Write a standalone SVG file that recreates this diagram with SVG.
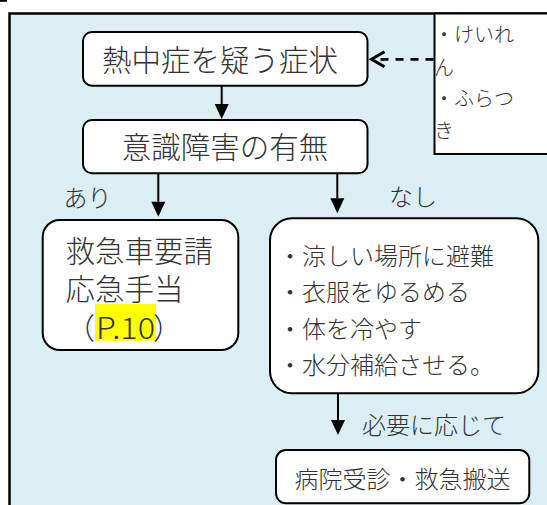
<svg xmlns="http://www.w3.org/2000/svg" width="547" height="505" viewBox="0 0 547 505">
<style>
text{font-family:"Noto Sans CJK JP","Noto Sans",sans-serif;font-weight:300;fill:#333;dominant-baseline:central}
.box{fill:#fff;stroke:#000;stroke-width:2}
.big{font-size:29.5px}
.mid{font-size:24px}
.sm{font-size:20px}
.conn{stroke:#000;stroke-width:2;fill:none}
.dash{stroke:#000;stroke-width:2.8;fill:none;stroke-dasharray:8 7}
.chev{fill:none;stroke:#000;stroke-width:3;stroke-dasharray:none}
</style>
<defs>
<marker id="tri" markerUnits="userSpaceOnUse" markerWidth="14" markerHeight="16" refX="0" refY="7" orient="auto" overflow="visible">
<path d="M0,0 L15,7 L0,14 z" fill="#000"/>
</marker>
<marker id="chev" markerUnits="userSpaceOnUse" markerWidth="14" markerHeight="16" refX="13" refY="7.5" orient="auto" overflow="visible">
<path class="chev" d="M0,0 L13,7.5 L0,15"/>
</marker>
</defs>
<rect x="0" y="0" width="7" height="1.8" fill="#000"/>
<rect id="frame" x="9.5" y="13.5" width="700" height="700" fill="#DAEEF3" stroke="#000" stroke-width="2.5"/>
<g id="note">
<rect x="434.5" y="13.5" width="200" height="140.5" fill="#fff" stroke="#000" stroke-width="2"/>
<text class="sm" x="434" y="33">・けいれ</text>
<text class="sm" x="434" y="66">ん</text>
<text class="sm" x="434" y="97">・ふらつ</text>
<text class="sm" x="434" y="129">き</text>
</g>
<g id="connectors">
<line class="conn" x1="221.7" y1="85.7" x2="221.7" y2="104" marker-end="url(#tri)"/>
<line class="conn" x1="158.3" y1="173.3" x2="158.3" y2="201.7" marker-end="url(#tri)"/>
<line class="conn" x1="337.3" y1="173.3" x2="337.3" y2="198.3" marker-end="url(#tri)"/>
<line class="conn" x1="338" y1="393.3" x2="338" y2="420" marker-end="url(#tri)"/>
<line class="dash" x1="433.5" y1="59.3" x2="371.5" y2="59.3" marker-end="url(#chev)"/>
<text class="mid" x="87.5" y="196" text-anchor="middle">あり</text>
<text class="mid" x="413" y="195" text-anchor="middle">なし</text>
<text class="mid" x="362" y="423.5">必要に応じて</text>
</g>
<g id="n1">
<rect class="box" x="83" y="32" width="284.5" height="53.7" rx="9"/>
<text class="big" x="220" y="58" text-anchor="middle">熱中症を疑う症状</text>
</g>
<g id="n2">
<rect class="box" x="83" y="120" width="284.5" height="53.3" rx="9"/>
<text class="big" x="225" y="145" text-anchor="middle">意識障害の有無</text>
</g>
<g id="n3">
<rect class="box" x="42.7" y="220" width="195.6" height="130" rx="17"/>
<text class="big" x="65.5" y="248.5">救急車要請</text>
<text class="big" x="65.5" y="287">応急手当</text>
<rect x="95" y="304" width="61" height="36.7" fill="#FFFF00"/>
<text class="big" x="65.5" y="326">（<tspan x="96" textLength="59" lengthAdjust="spacingAndGlyphs">P.10</tspan><tspan x="153">）</tspan></text>
</g>
<g id="n4">
<rect class="box" x="270" y="218.3" width="268.3" height="175" rx="22"/>
<text class="mid" x="278" y="254">・涼しい場所に避難</text>
<text class="mid" x="278" y="290.5">・衣服をゆるめる</text>
<text class="mid" x="278" y="327">・体を冷やす</text>
<text class="mid" x="278" y="363.5">・水分補給させる。</text>
</g>
<g id="n5">
<rect class="box" x="276" y="450" width="253.3" height="53.3" rx="10"/>
<text class="mid" x="402.5" y="477.5" text-anchor="middle">病院受診・救急搬送</text>
</g>
</svg>
